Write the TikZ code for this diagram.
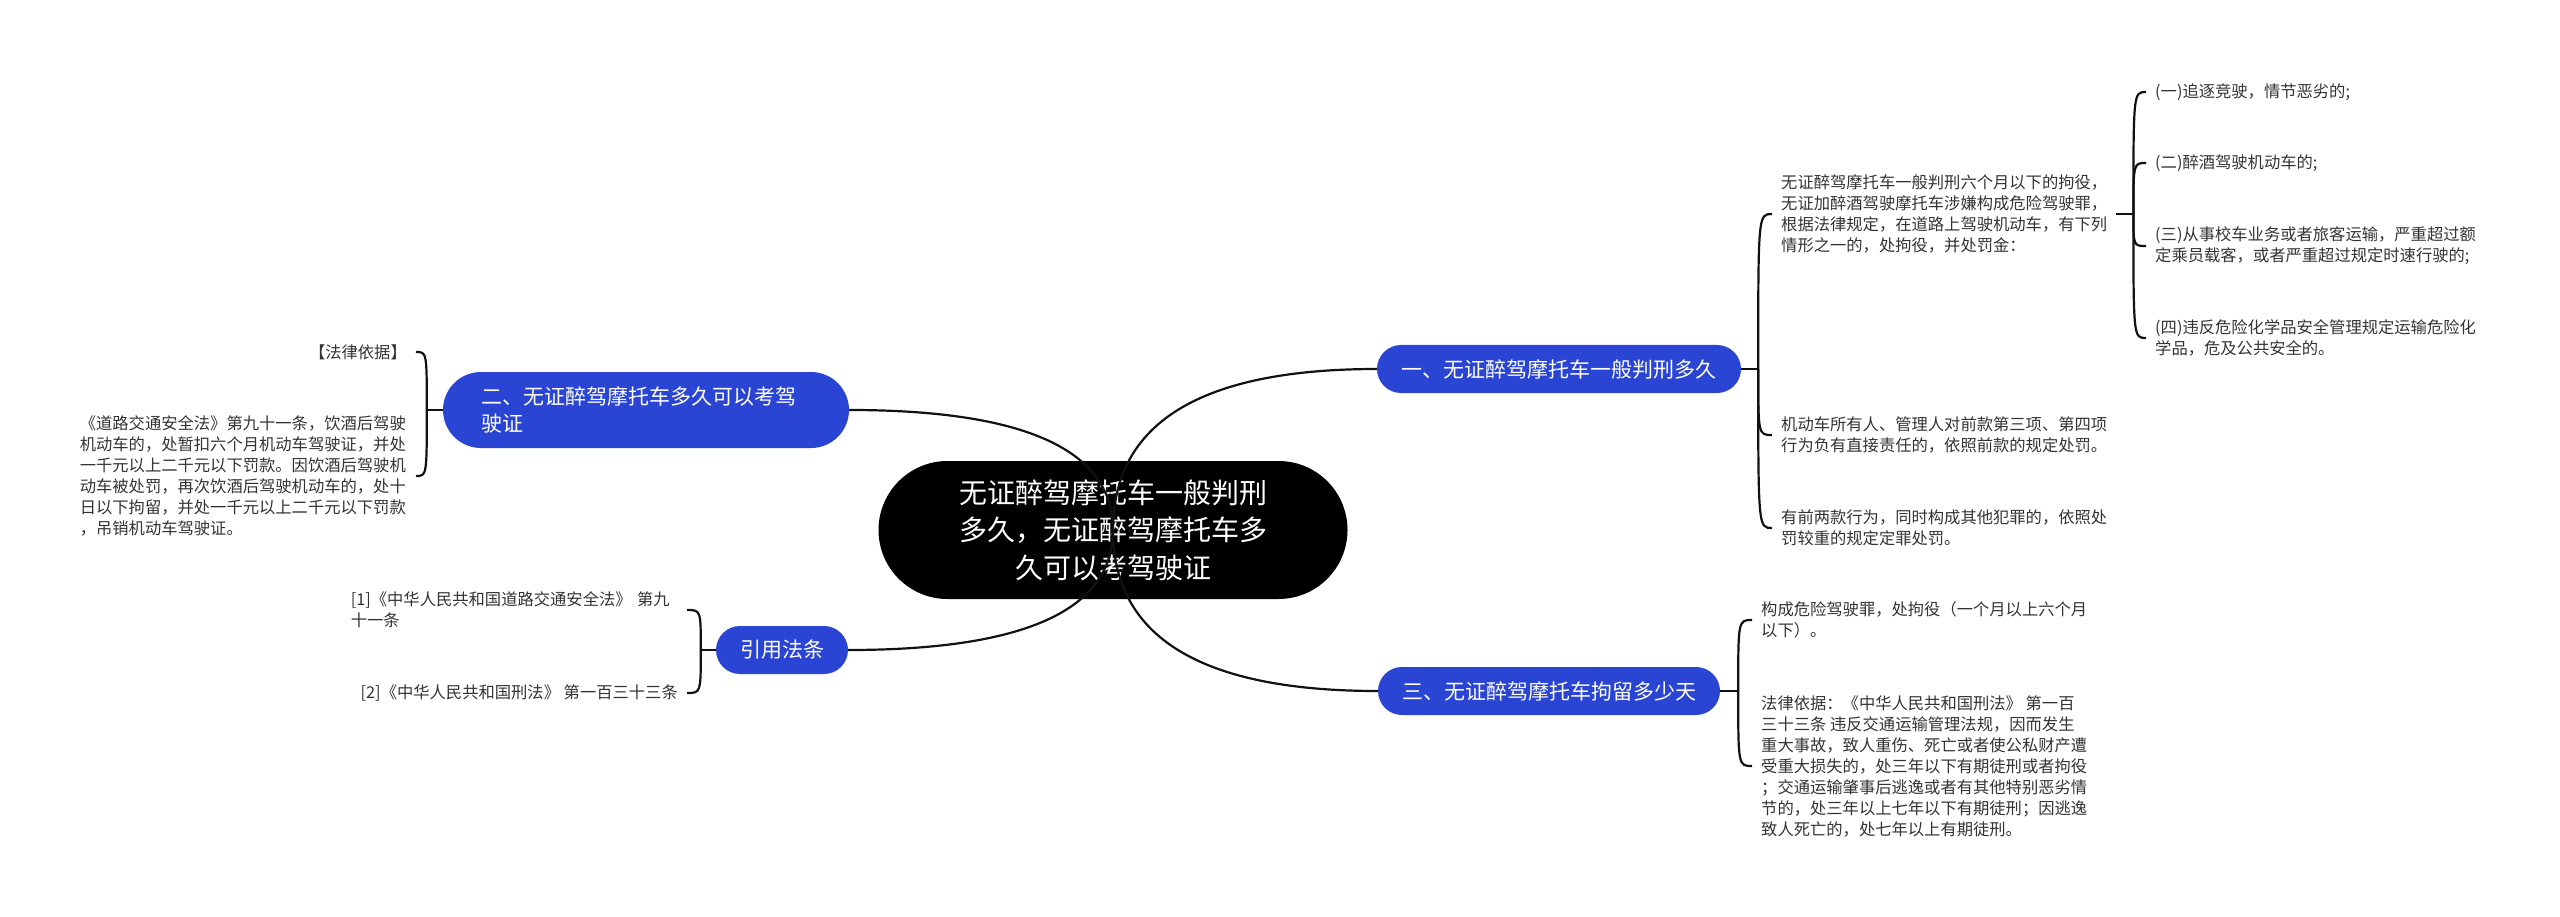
\documentclass[tikz,border=0pt]{standalone}
\usepackage{fontspec}
\setmainfont{Noto Sans CJK SC}
\usetikzlibrary{calc}
\definecolor{bluenode}{HTML}{2A44D4}
\definecolor{txt}{HTML}{333333}
\definecolor{linec}{HTML}{111111}
\tikzset{
  conn/.style={draw=linec, line width=2.2pt},
  bluebox/.style={fill=bluenode, draw=none, text=white, font=\fontsize{21}{27}\selectfont, minimum height=48pt, rounded corners=24pt, inner sep=0pt},
  rootbox/.style={fill=black, draw=none, text=white, font=\fontsize{28}{37.5}\selectfont, align=center, minimum width=469pt, minimum height=138pt, rounded corners=69pt, inner sep=0pt},
  leaf/.style={text=txt, font=\fontsize{16.3}{21}\selectfont, inner xsep=9pt, inner ysep=2pt, align=left},
}
\begin{document}
\begin{tikzpicture}[x=1pt,y=-1pt]
\useasboundingbox (0,0) rectangle (2560,917);
% main nodes
\node[rootbox] (root) at (1113,530) {无证醉驾摩托车一般判刑\\多久，无证醉驾摩托车多\\久可以考驾驶证};
\node[bluebox, minimum width=364pt] (b1) at (1559,369) {一、无证醉驾摩托车一般判刑多久};
\node[bluebox, minimum width=406pt, minimum height=76pt, rounded corners=38pt, text width=330pt, align=left] (b2) at (646,410) {二、无证醉驾摩托车多久可以考驾\\驶证};
\node[bluebox, minimum width=342pt] (b3) at (1549,691) {三、无证醉驾摩托车拘留多少天};
\node[bluebox, minimum width=132pt] (b4) at (782,650) {引用法条};
% right of b1
\node[leaf, anchor=west] (p1) at (1772,214) {无证醉驾摩托车一般判刑六个月以下的拘役，\\无证加醉酒驾驶摩托车涉嫌构成危险驾驶罪，\\根据法律规定，在道路上驾驶机动车，有下列\\情形之一的，处拘役，并处罚金：};
\node[leaf, anchor=west] (p2) at (1772,435) {机动车所有人、管理人对前款第三项、第四项\\行为负有直接责任的，依照前款的规定处罚。};
\node[leaf, anchor=west] (p3) at (1772,528) {有前两款行为，同时构成其他犯罪的，依照处\\罚较重的规定定罪处罚。};
% right of p1
\node[leaf, anchor=west] (c1) at (2146,92) {(一)追逐竞驶，情节恶劣的;};
\node[leaf, anchor=west] (c2) at (2146,163) {(二)醉酒驾驶机动车的;};
\node[leaf, anchor=west] (c3) at (2146,246) {(三)从事校车业务或者旅客运输，严重超过额\\定乘员载客，或者严重超过规定时速行驶的;};
\node[leaf, anchor=west] (c4) at (2146,338) {(四)违反危险化学品安全管理规定运输危险化\\学品，危及公共安全的。};
% right of b3
\node[leaf, anchor=west] (d1) at (1752,620) {构成危险驾驶罪，处拘役（一个月以上六个月\\以下）。};
\node[leaf, anchor=west] (d2) at (1752,766) {法律依据：《中华人民共和国刑法》 第一百\\三十三条 违反交通运输管理法规，因而发生\\重大事故，致人重伤、死亡或者使公私财产遭\\受重大损失的，处三年以下有期徒刑或者拘役\\；交通运输肇事后逃逸或者有其他特别恶劣情\\节的，处三年以上七年以下有期徒刑；因逃逸\\致人死亡的，处七年以上有期徒刑。};
% left of b2
\node[leaf, anchor=east] (l1) at (416,352) {【法律依据】};
\node[leaf, anchor=east, text width=327pt] (l2) at (416,476) {《道路交通安全法》第九十一条，饮酒后驾驶\\机动车的，处暂扣六个月机动车驾驶证，并处\\一千元以上二千元以下罚款。因饮酒后驾驶机\\动车被处罚，再次饮酒后驾驶机动车的，处十\\日以下拘留，并处一千元以上二千元以下罚款\\，吊销机动车驾驶证。};
% left of b4
\node[leaf, anchor=east, text width=327pt] (r1) at (687,610) {[1]《中华人民共和国道路交通安全法》 第九\\十一条};
\node[leaf, anchor=east] (r2) at (687,693) {[2]《中华人民共和国刑法》 第一百三十三条};
% main connectors (quadratic curves from the centre)
\coordinate (rc) at (root.center);
\foreach \t/\a in {b1/west, b2/east, b3/west, b4/east}{
  \coordinate (q) at (rc |- \t.\a);
  \draw[conn] (rc) .. controls ($(rc)!2/3!(q)$) and ($(\t.\a)!2/3!(q)$) .. (\t.\a);
}
% bracket junctions
\draw[conn] (b1.east) -- ++(17,0) coordinate (j1);
\draw[conn] (p1.east) -- ++(17,0) coordinate (j2);
\draw[conn] (b3.east) -- ++(18,0) coordinate (j3);
\draw[conn] (b2.west) -- ++(-16,0) coordinate (j4);
\draw[conn] (b4.west) -- ++(-15,0) coordinate (j5);
\foreach \j/\c/\a in {j1/p1/west, j1/p2/west, j1/p3/west,
                      j2/c1/west, j2/c2/west, j2/c3/west, j2/c4/west,
                      j3/d1/west, j3/d2/west,
                      j4/l1/east, j4/l2/east,
                      j5/r1/east, j5/r2/east}{
  \draw[conn] (\j) .. controls (\j |- \c.\a) and (\j |- \c.\a) .. (\c.\a);
}
\end{tikzpicture}
\end{document}
